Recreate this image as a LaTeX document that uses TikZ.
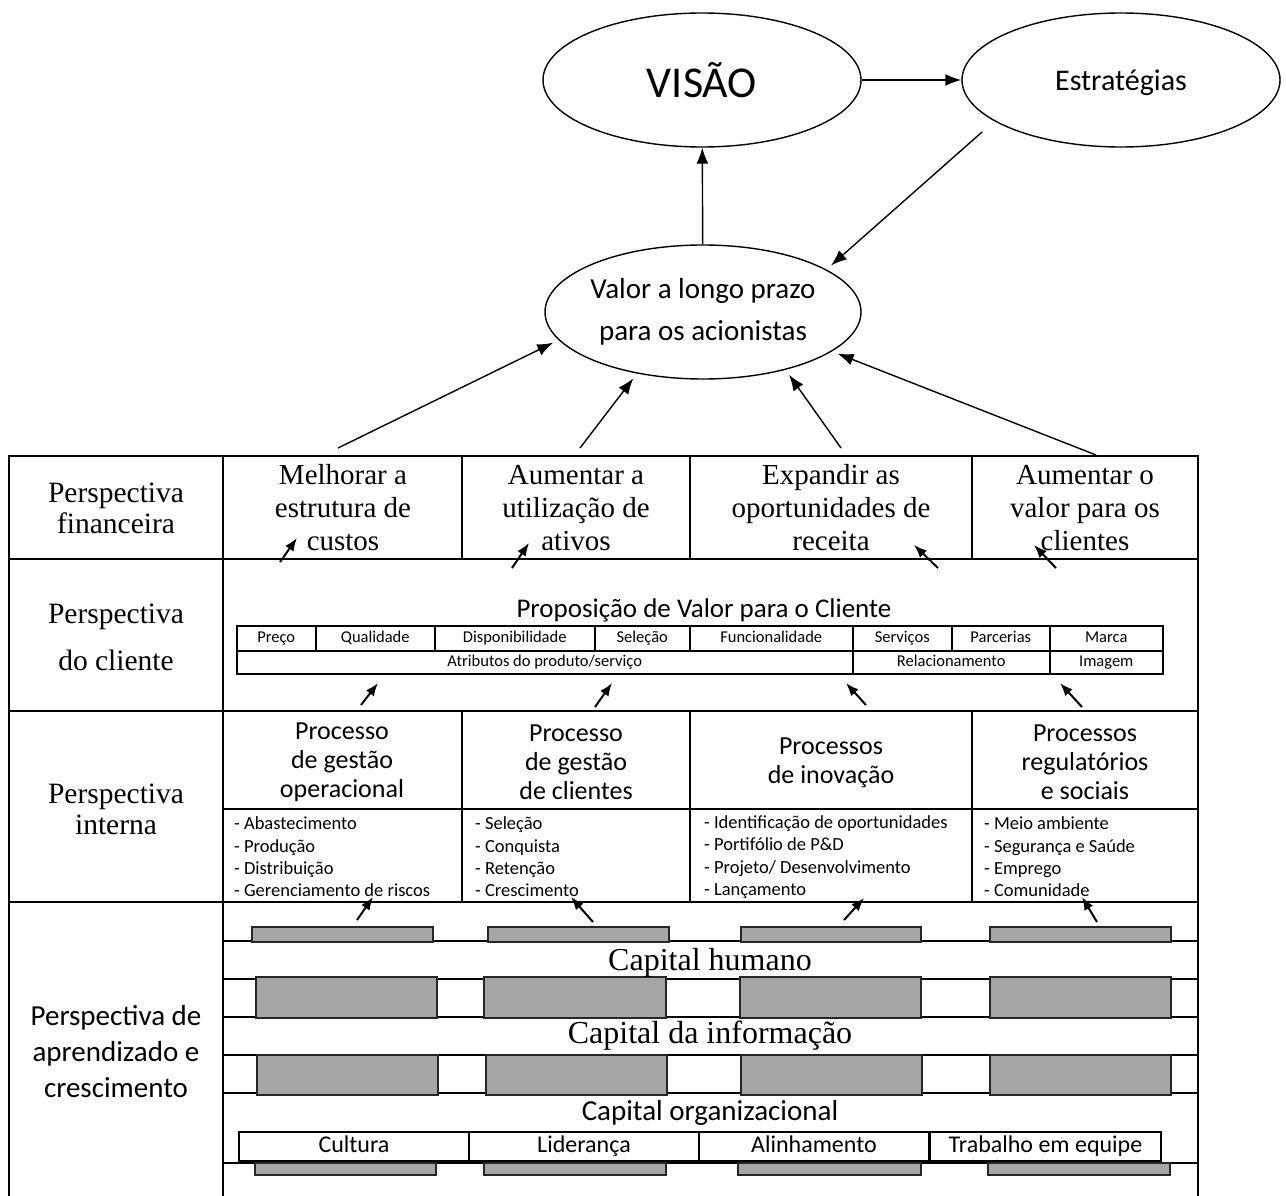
\documentclass[tikz,border=0pt]{standalone}
\usepackage{fontspec}
\setmainfont{Liberation Serif}
\setsansfont{Carlito}
\usepackage{xcolor}
\usepackage{tikz}
\usetikzlibrary{shapes.geometric,arrows.meta}
\definecolor{boxgray}{RGB}{166,166,166}
\tikzstyle{arrow} = [-{Latex[length=16pt,width=12pt]}, line width=1.4pt]
\tikzstyle{smallarrow} = [-{Latex[length=13pt,width=10pt]}, line width=2pt]
\tikzstyle{oval} = [ellipse, draw, line width=1.4pt, inner sep=0pt, minimum width=318pt, minimum height=134pt]
\tikzstyle{grid} = [line width=2pt]
\tikzstyle{graybox} = [draw=black!85, fill=boxgray, line width=1.5pt]
\tikzstyle{attr} = [draw, line width=1.5pt, anchor=north west, inner sep=0pt, text height=11.5pt, text depth=3.5pt, font=\sffamily\fontsize{16.5}{18}\selectfont]
\tikzstyle{cult} = [draw, line width=2pt, anchor=north west, inner sep=0pt, minimum width=230pt, minimum height=29pt, text height=16.5pt, text depth=5pt, font=\sffamily\fontsize{24}{26}\selectfont]
\tikzstyle{persp} = [align=center, font=\fontsize{29.5}{31}\selectfont]
\tikzstyle{fin} = [align=center, font=\fontsize{29}{33}\selectfont]
\tikzstyle{proc} = [align=center, font=\sffamily\fontsize{26}{29}\selectfont]
\tikzstyle{items} = [align=left, anchor=west, inner sep=0pt, font=\sffamily\fontsize{18.5}{22.3}\selectfont]

\begin{document}
\begin{tikzpicture}[x=1pt, y=-1pt]
		\useasboundingbox (0,0) rectangle (1286,1196);

		% top ovals
		\node (visao) [oval, font=\sffamily\fontsize{44}{48}\selectfont] at (702,80) {VISÃO};
		\node (estrat) [oval, text depth=0pt, font=\sffamily\fontsize{30}{34}\selectfont] at (1121,80) {Estratégias};
		\node (valor) [oval, minimum width=316pt] at (703,312) {};
		\node (valortext) [align=center, font=\sffamily\fontsize{29}{42}\selectfont] at (valor) {Valor a longo prazo\\para os acionistas};

		\draw [arrow] (visao) -- (estrat);
		\draw [arrow] (valor) -- (visao);
		\draw [arrow, shorten <=16pt, shorten >=6pt] (estrat.198) -- (valor.19);

		\coordinate (up1) at (338,448);
		\coordinate (up2) at (580,448);
		\coordinate (up3) at (841,448);
		\coordinate (up4) at (1096,455);
		\draw [arrow, shorten >=6pt] (up1) -- (valor.191);
		\draw [arrow, shorten >=6pt] (up2) -- (valor.223);
		\draw [arrow, shorten >=6pt] (up3) -- (valor.325);
		\draw [arrow, shorten >=6pt] (up4) -- (valor.343);

		% table
		\draw [grid] (9,1196) -- (9,456) -- (1198,456) -- (1198,1196);
		\draw [grid] (223,456) -- (223,1196);
		\draw [grid] (9,559) -- (1198,559);
		\draw [grid] (9,711) -- (1198,711);
		\draw [grid] (9,902) -- (1198,902);
		\draw [grid] (462,456) -- (462,559);
		\draw [grid] (690,456) -- (690,559);
		\draw [grid] (972,456) -- (972,559);
		\draw [grid] (462,711) -- (462,902);
		\draw [grid] (690,711) -- (690,902);
		\draw [grid] (972,711) -- (972,902);
		\draw [grid] (223,809) -- (1198,809);
		\draw [grid] (223,941) -- (1198,941);
		\draw [grid] (223,979) -- (1198,979);
		\draw [grid] (223,1017) -- (1198,1017);
		\draw [grid] (223,1055) -- (1198,1055);
		\draw [grid] (223,1093) -- (1198,1093);
		\draw [grid] (223,1163) -- (1198,1163);

		\node (pfin) [persp] at (116,508) {Perspectiva\\financeira};
		\node (pcli) [persp] at (116,637) {Perspectiva\\[16pt]do cliente};
		\node (pint) [persp] at (116,809) {Perspectiva\\interna};
		\node (papr) [align=center, font=\sffamily\fontsize{29}{36}\selectfont] at (116,1052) {Perspectiva de\\aprendizado e\\crescimento};

		% financeira
		\node (fin1) [fin] at (343,508) {Melhorar a\\estrutura de\\custos};
		\node (fin2) [fin] at (576,508) {Aumentar a\\utilização de\\ativos};
		\node (fin3) [fin] at (831,508) {Expandir as\\oportunidades de\\receita};
		\node (fin4) [fin] at (1085,508) {Aumentar o\\valor para os\\clientes};

		% cliente
		\node (propos) [font=\sffamily\fontsize{27}{30}\selectfont] at (704,610) {Proposição de Valor para o Cliente};
		\node (preco) [attr, minimum width=79pt, minimum height=25pt] at (236,625) {Preço};
		\node (qualid) [attr, minimum width=119pt, minimum height=25pt] at (315,625) {Qualidade};
		\node (dispon) [attr, minimum width=160pt, minimum height=25pt] at (434,625) {Disponibilidade};
		\node (selec) [attr, minimum width=95pt, minimum height=25pt] at (594,625) {Seleção};
		\node (funcion) [attr, minimum width=163pt, minimum height=25pt] at (689,625) {Funcionalidade};
		\node (servic) [attr, minimum width=99pt, minimum height=25pt] at (852,625) {Serviços};
		\node (parcer) [attr, minimum width=98pt, minimum height=25pt] at (951,625) {Parcerias};
		\node (marca) [attr, minimum width=113pt, minimum height=25pt] at (1049,625) {Marca};
		\node (atrib) [attr, minimum width=616pt, minimum height=23pt] at (236,650) {Atributos do produto/serviço};
		\node (relac) [attr, minimum width=197pt, minimum height=23pt] at (852,650) {Relacionamento};
		\node (imagem) [attr, minimum width=113pt, minimum height=23pt] at (1049,650) {Imagem};

		% interna
		\node (proc1) [proc] at (342,762) {Processo\\de gestão\\operacional};
		\node (proc2) [proc] at (576,762) {Processo\\de gestão\\de clientes};
		\node (proc3) [proc] at (831,763) {Processos\\de inovação};
		\node (proc4) [proc] at (1085,762) {Processos\\regulatórios\\e sociais};
		\node (list1) [items] at (234,857) {- Abastecimento\\- Produção\\- Distribuição\\- Gerenciamento de riscos};
		\node (list2) [items] at (475,857) {- Seleção\\- Conquista\\- Retenção\\- Crescimento};
		\node (list3) [items] at (704,857) {- Identificação de oportunidades\\- Portifólio de P\&D\\- Projeto/ Desenvolvimento\\- Lançamento};
		\node (list4) [items] at (984,857) {- Meio ambiente\\- Segurança e Saúde\\- Emprego\\- Comunidade};

		% aprendizado
		\draw [graybox] (252,927) rectangle (433,942);
		\draw [graybox] (488,927) rectangle (669,942);
		\draw [graybox] (741,927) rectangle (921,942);
		\draw [graybox] (990,927) rectangle (1171,942);
		\draw [graybox] (256,977) rectangle (437,1018);
		\draw [graybox] (484,977) rectangle (666,1018);
		\draw [graybox] (740,977) rectangle (921,1018);
		\draw [graybox] (990,977) rectangle (1171,1018);
		\draw [graybox] (257,1055) rectangle (438,1095);
		\draw [graybox] (486,1055) rectangle (667,1095);
		\draw [graybox] (741,1055) rectangle (922,1095);
		\draw [graybox] (990,1055) rectangle (1171,1095);
		\draw [graybox] (255,1163) rectangle (436,1175);
		\draw [graybox] (484,1163) rectangle (666,1175);
		\draw [graybox] (738,1163) rectangle (921,1175);
		\draw [graybox] (988,1163) rectangle (1170,1175);

		\node (caphum) [font=\fontsize{32}{34}\selectfont] at (710,963) {Capital humano};
		\node (capinf) [font=\fontsize{32}{34}\selectfont] at (710,1036) {Capital da informação};
		\node (caporg) [font=\sffamily\fontsize{29}{31}\selectfont] at (710,1113) {Capital organizacional};
		\node (cultura) [cult] at (238,1131) {Cultura};
		\node (lider) [cult] at (468,1131) {Liderança};
		\node (alinh) [cult] at (698,1131) {Alinhamento};
		\node (trabalho) [cult, minimum width=231pt] at (929,1131) {Trabalho em equipe};

		% small arrows between rows
		\coordinate (a1s) at (280,562);  \coordinate (a1e) at (297,538);
		\coordinate (a2s) at (512,568);  \coordinate (a2e) at (529,543);
		\coordinate (a3s) at (938,568);  \coordinate (a3e) at (914,545);
		\coordinate (a4s) at (1056,568); \coordinate (a4e) at (1034,545);
		\coordinate (b1s) at (361,705);  \coordinate (b1e) at (378,683);
		\coordinate (b2s) at (595,707);  \coordinate (b2e) at (612,683);
		\coordinate (b3s) at (866,705);  \coordinate (b3e) at (846,683);
		\coordinate (b4s) at (1082,707); \coordinate (b4e) at (1060,683);
		\coordinate (c1s) at (357,920);  \coordinate (c1e) at (373,897);
		\coordinate (c2s) at (593,922);  \coordinate (c2e) at (571,897);
		\coordinate (c3s) at (844,920);  \coordinate (c3e) at (864,898);
		\coordinate (c4s) at (1097,922); \coordinate (c4e) at (1082,897);

		\draw [smallarrow] (a1s) -- (a1e);
		\draw [smallarrow] (a2s) -- (a2e);
		\draw [smallarrow] (a3s) -- (a3e);
		\draw [smallarrow] (a4s) -- (a4e);
		\draw [smallarrow] (b1s) -- (b1e);
		\draw [smallarrow] (b2s) -- (b2e);
		\draw [smallarrow] (b3s) -- (b3e);
		\draw [smallarrow] (b4s) -- (b4e);
		\draw [smallarrow] (c1s) -- (c1e);
		\draw [smallarrow] (c2s) -- (c2e);
		\draw [smallarrow] (c3s) -- (c3e);
		\draw [smallarrow] (c4s) -- (c4e);
	\end{tikzpicture}
\end{document}
